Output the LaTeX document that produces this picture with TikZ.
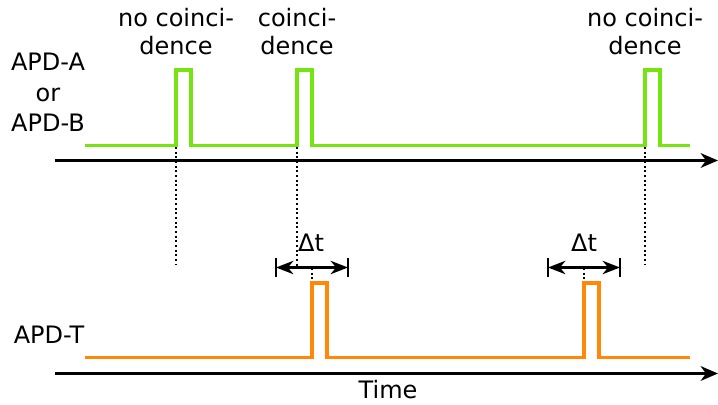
\documentclass[tikz,border=0pt]{standalone}
\usepackage{fontspec}
\setmainfont{DejaVu Sans}
\usetikzlibrary{arrows.meta}
\definecolor{sigA}{RGB}{118,228,16}
\definecolor{sigT}{RGB}{255,136,8}
\begin{document}
\begin{tikzpicture}[x=0.75pt,y=-0.75pt,
  lbl/.style={font=\fontsize{18}{21}\selectfont,align=center,inner sep=0pt},
  axisline/.style={line width=1.8pt,-{Stealth[length=13pt,width=11pt,inset=4pt]}},
  pulseA/.style={sigA,line width=2.5pt},
  pulseT/.style={sigT,line width=2.5pt},
  dotline/.style={line width=1.5pt,dash pattern=on 1.5pt off 2pt},
  dtarrow/.style={line width=1.8pt,{Stealth[length=13pt,width=10pt,inset=4pt]}-{Stealth[length=13pt,width=10pt,inset=4pt]}},
  tick/.style={line width=0.9pt}]
\useasboundingbox (0,0) rectangle (718,404);
% axes
\coordinate (ax1s) at (55,160.5);
\coordinate (ax1e) at (718,160.5);
\coordinate (ax2s) at (55,373.5);
\coordinate (ax2e) at (718,373.5);
\draw[axisline] (ax1s) -- (ax1e);
\draw[axisline] (ax2s) -- (ax2e);
% green signal
\draw[pulseA] (85,145.5) -- (176,145.5) -- (176,70) -- (191,70) -- (191,145.5)
  -- (297,145.5) -- (297,70) -- (312,70) -- (312,145.5)
  -- (645,145.5) -- (645,70) -- (660,70) -- (660,145.5) -- (690,145.5);
% orange signal
\draw[pulseT] (85,357.5) -- (312,357.5) -- (312,283) -- (327,283) -- (327,357.5)
  -- (584,357.5) -- (584,283) -- (599,283) -- (599,357.5) -- (690,357.5);
% dotted guides
\coordinate (g1t) at (176,147); \coordinate (g1b) at (176,265);
\coordinate (g2t) at (297,147); \coordinate (g2b) at (297,267);
\coordinate (g3t) at (645,147); \coordinate (g3b) at (645,265);
\draw[dotline] (g1t) -- (g1b);
\draw[dotline] (g2t) -- (g2b);
\draw[dotline] (g3t) -- (g3b);
% delta t markers
\coordinate (d1l) at (276,267.5); \coordinate (d1r) at (348,267.5);
\coordinate (d2l) at (548,267.5); \coordinate (d2r) at (620,267.5);
\draw[dtarrow] (d1l) -- (d1r);
\draw[dtarrow] (d2l) -- (d2r);
\draw[tick] (276,258) -- (276,277);
\draw[tick] (348,258) -- (348,277);
\draw[tick] (548,258) -- (548,277);
\draw[tick] (620,258) -- (620,277);
\coordinate (p1) at (312,268); \coordinate (p1b) at (312,282);
\coordinate (p2) at (584,268); \coordinate (p2b) at (584,282);
\draw[dotline] (p1) -- (p1b);
\draw[dotline] (p2) -- (p2b);
% labels
\node[lbl,anchor=base] (dt1) at (311,251.5) {Δt};
\node[lbl,anchor=base] (dt2) at (584,251.5) {Δt};
\node[lbl,anchor=south] (c1) at (176,55) {no coinci-\\dence};
\node[lbl,anchor=south] (c2) at (297,55) {coinci-\\dence};
\node[lbl,anchor=south] (c3) at (645,55) {no coinci-\\dence};
\node[lbl,anchor=south,font=\fontsize{18}{23}\selectfont] (apdab) at (48,132) {APD-A\\or\\APD-B};
\node[lbl,anchor=base] (apdt) at (49,343.3) {APD-T};
\node[lbl,anchor=base] (time) at (388,398) {Time};
\end{tikzpicture}
\end{document}
